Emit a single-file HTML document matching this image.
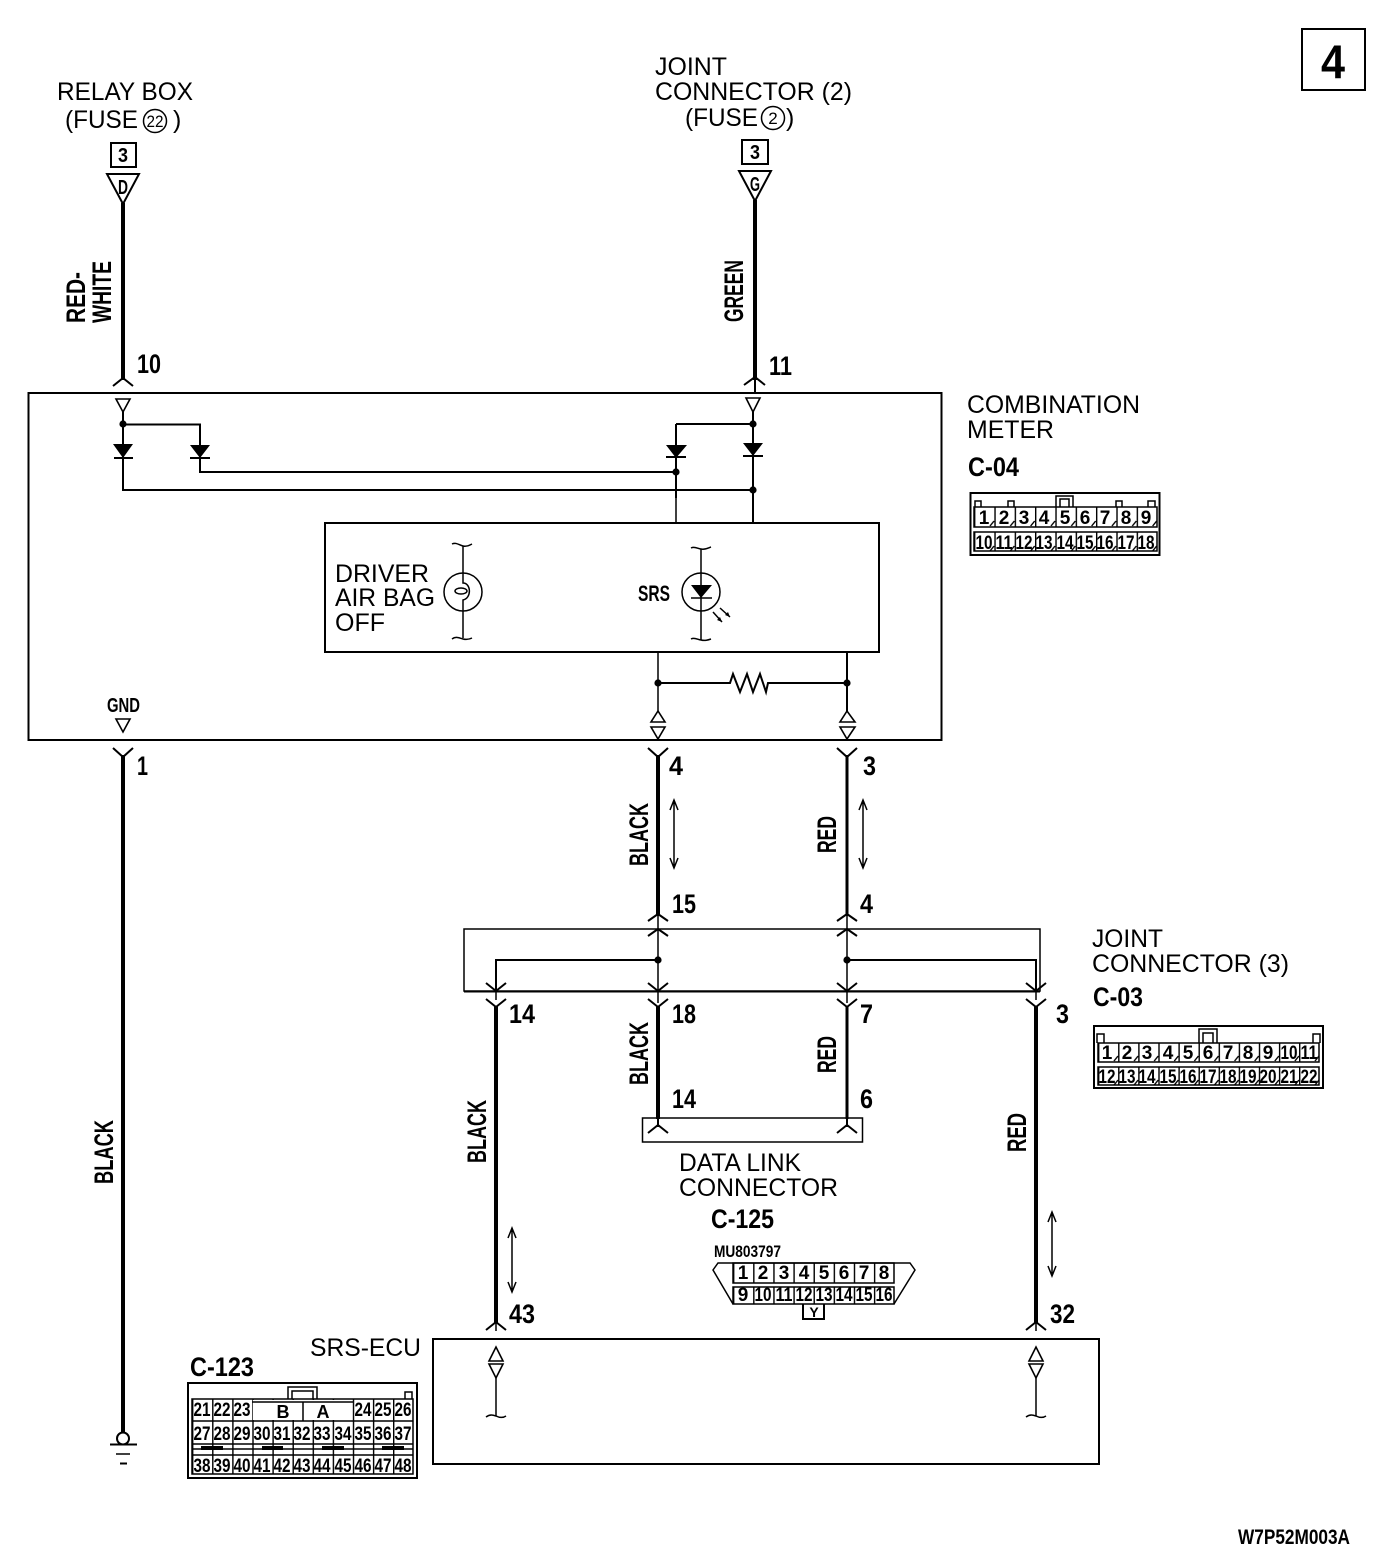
<!DOCTYPE html>
<html><head><meta charset="utf-8"><style>
html,body{margin:0;padding:0;background:#fff}
svg{display:block}
text{font-family:"Liberation Sans",sans-serif;fill:#000}
.t{font-size:25px}
.b{font-size:27px;font-weight:bold}
.n{font-size:19px;font-weight:bold;text-anchor:middle}
.l2{fill:none;stroke:#000;stroke-width:2}
.l1{fill:none;stroke:#000;stroke-width:1.5}
.w{fill:#fff;stroke:#000;stroke-width:1.6}
.k{fill:#000;stroke:none}
</style></head><body>
<svg width="1392" height="1564" viewBox="0 0 1392 1564" xmlns="http://www.w3.org/2000/svg">
<defs>
<pattern id="p4" x="974" y="507" width="20.33" height="25" patternUnits="userSpaceOnUse"><path d="M.7 0V25M20 14L16 19" fill="none" stroke="#000" stroke-width="1.4"/></pattern>
<pattern id="p3" x="1098" y="1043" width="20.1" height="24" patternUnits="userSpaceOnUse"><path d="M.7 0V24M20 13L16 18" fill="none" stroke="#000" stroke-width="1.4"/></pattern>
<pattern id="p125" x="733" y="1263" width="20.13" height="24" patternUnits="userSpaceOnUse"><path d="M.7 0V24" fill="none" stroke="#000" stroke-width="1.4"/></pattern>
<pattern id="p123" x="192" y="1399" width="20.1" height="30" patternUnits="userSpaceOnUse"><path d="M.7 0V30" fill="none" stroke="#000" stroke-width="1.4"/></pattern>
</defs>

<!-- page number -->
<rect x="1302" y="29" width="63" height="61" class="l2"/>
<text x="1333" y="78" class="b" style="font-size:47px" text-anchor="middle" textLength="24" lengthAdjust="spacingAndGlyphs">4</text>

<!-- top labels -->
<text x="57" y="100" class="t" textLength="136" lengthAdjust="spacingAndGlyphs">RELAY BOX</text>
<text x="65" y="128" class="t" textLength="73" lengthAdjust="spacingAndGlyphs">(FUSE</text>
<circle cx="155" cy="121" r="11.5" class="l1"/>
<text x="155" y="127" style="font-size:17px" text-anchor="middle" textLength="17" lengthAdjust="spacingAndGlyphs">22</text>
<text x="173" y="128" class="t">)</text>
<rect x="111" y="143" width="25" height="24" class="l2"/>
<text x="123" y="162" class="n" style="font-size:20px" textLength="10" lengthAdjust="spacingAndGlyphs">3</text>
<path d="M107 174H139L123 204Z" class="l2" stroke-width="2.4"/>
<text x="123" y="194" class="n" style="font-size:20px" textLength="10" lengthAdjust="spacingAndGlyphs">D</text>

<text x="655" y="75" class="t" textLength="72" lengthAdjust="spacingAndGlyphs">JOINT</text>
<text x="655" y="100" class="t" textLength="197" lengthAdjust="spacingAndGlyphs">CONNECTOR (2)</text>
<text x="685" y="126" class="t" textLength="73" lengthAdjust="spacingAndGlyphs">(FUSE</text>
<circle cx="773" cy="118" r="11.5" class="l1"/>
<text x="773" y="124" style="font-size:17px" text-anchor="middle">2</text>
<text x="786" y="126" class="t">)</text>
<rect x="742" y="140" width="26" height="24" class="l2"/>
<text x="755" y="159" class="n" style="font-size:20px" textLength="10" lengthAdjust="spacingAndGlyphs">3</text>
<path d="M739 171H771L755 201Z" class="l2"/>
<text x="755" y="191" class="n" style="font-size:20px" textLength="10" lengthAdjust="spacingAndGlyphs">G</text>

<!-- thick wires -->
<g fill="none" stroke="#000" stroke-width="4">
<path d="M123 203V380"/>
<path d="M755 200V380"/>
<path d="M123 755V1433"/>
<path d="M658 755V916"/>
<path d="M496 1006V1323"/>
<path d="M658 1006V1119"/>
<path d="M1036 1006V1323"/>
</g>
<path d="M847 755V916M847 1006V1119" fill="none" stroke="#000" stroke-width="3"/>

<!-- wire labels -->
<g class="b">
<text transform="translate(85,323) rotate(-90)" class="b" textLength="51" lengthAdjust="spacingAndGlyphs">RED-</text>
<text transform="translate(111,323) rotate(-90)" class="b" textLength="62" lengthAdjust="spacingAndGlyphs">WHITE</text>
<text transform="translate(743,322) rotate(-90)" class="b" textLength="62" lengthAdjust="spacingAndGlyphs">GREEN</text>
<text transform="translate(648,866) rotate(-90)" class="b" textLength="63" lengthAdjust="spacingAndGlyphs">BLACK</text>
<text transform="translate(836,853) rotate(-90)" class="b" textLength="37" lengthAdjust="spacingAndGlyphs">RED</text>
<text transform="translate(648,1085) rotate(-90)" class="b" textLength="63" lengthAdjust="spacingAndGlyphs">BLACK</text>
<text transform="translate(836,1073) rotate(-90)" class="b" textLength="37" lengthAdjust="spacingAndGlyphs">RED</text>
<text transform="translate(486,1163) rotate(-90)" class="b" textLength="63" lengthAdjust="spacingAndGlyphs">BLACK</text>
<text transform="translate(1026,1152) rotate(-90)" class="b" textLength="39" lengthAdjust="spacingAndGlyphs">RED</text>
<text transform="translate(113,1184) rotate(-90)" class="b" textLength="64" lengthAdjust="spacingAndGlyphs">BLACK</text>
</g>

<!-- pin numbers -->
<g>
<text x="137" y="373" class="b" textLength="24" lengthAdjust="spacingAndGlyphs">10</text>
<text x="769" y="375" class="b" textLength="23" lengthAdjust="spacingAndGlyphs">11</text>
<text x="137" y="775" class="b" textLength="11" lengthAdjust="spacingAndGlyphs">1</text>
<text x="669" y="775" class="b" textLength="14" lengthAdjust="spacingAndGlyphs">4</text>
<text x="863" y="775" class="b" textLength="13" lengthAdjust="spacingAndGlyphs">3</text>
<text x="672" y="913" class="b" textLength="24" lengthAdjust="spacingAndGlyphs">15</text>
<text x="860" y="913" class="b" textLength="13" lengthAdjust="spacingAndGlyphs">4</text>
<text x="509" y="1023" class="b" textLength="26" lengthAdjust="spacingAndGlyphs">14</text>
<text x="672" y="1023" class="b" textLength="24" lengthAdjust="spacingAndGlyphs">18</text>
<text x="860" y="1023" class="b" textLength="13" lengthAdjust="spacingAndGlyphs">7</text>
<text x="1056" y="1023" class="b" textLength="13" lengthAdjust="spacingAndGlyphs">3</text>
<text x="672" y="1108" class="b" textLength="24" lengthAdjust="spacingAndGlyphs">14</text>
<text x="860" y="1108" class="b" textLength="13" lengthAdjust="spacingAndGlyphs">6</text>
<text x="509" y="1323" class="b" textLength="26" lengthAdjust="spacingAndGlyphs">43</text>
<text x="1050" y="1323" class="b" textLength="25" lengthAdjust="spacingAndGlyphs">32</text>
</g>

<!-- combination meter -->
<rect x="28.5" y="393" width="913" height="347" class="l2"/>
<g class="l2">
<path d="M113 386L123 378L133 386" class="l2"/>
<path d="M744 385L755 377L765 385M755 380V392" class="l2"/>
</g>
<path d="M116 399H130L123 412Z" class="w"/>
<path d="M746 398H760L753 412Z" class="w"/>
<path d="M123 412V490H753M123 424.5H200V472H676M676 424H753M753 412V522M676 424V498" class="l2"/>
<path d="M676 498V522" class="l1"/>
<path d="M113 444H133L123 458ZM190 445H210L200 458ZM666 445H687L676 458ZM743 443H763L753 456Z" class="k"/>
<path d="M114 458H133M190 458H210M666 457H686M743 456H763" class="l2"/>
<g class="k"><circle cx="123" cy="424" r="3.6"/><circle cx="753" cy="424" r="3.6"/><circle cx="676" cy="472" r="3.6"/><circle cx="753" cy="490" r="3.6"/><circle cx="658" cy="683" r="3.6"/><circle cx="847" cy="683" r="3.6"/><circle cx="658" cy="960" r="3.6"/><circle cx="847" cy="960" r="3.6"/></g>

<rect x="325" y="523" width="554" height="129" class="l2"/>
<text x="335" y="582" class="t" textLength="94" lengthAdjust="spacingAndGlyphs">DRIVER</text>
<text x="335" y="606" class="t" textLength="100" lengthAdjust="spacingAndGlyphs">AIR BAG</text>
<text x="335" y="631" class="t" textLength="50" lengthAdjust="spacingAndGlyphs">OFF</text>
<!-- bulb -->
<circle cx="463" cy="592" r="19" class="l1"/>
<path d="M463 546V573M463 573V583C471 583 472 598 463 600V611M463 611V638" class="l1"/>
<ellipse cx="461" cy="591" rx="6" ry="3" class="l1"/>
<path d="M452 544C456 542 459 545 463 546C467 547 470 545 472 544M452 639C456 636 459 638 463 639C467 640 470 639 472 638" class="l1"/>
<!-- LED -->
<text x="638" y="601" class="b" style="font-size:22px" textLength="32" lengthAdjust="spacingAndGlyphs">SRS</text>
<circle cx="701" cy="592" r="19" class="l1"/>
<path d="M701 549V640" class="l1"/>
<path d="M691 548C695 546 698 549 701 549C705 550 708 548 711 547M691 639C695 637 698 640 701 640C705 641 708 640 711 639" class="l1"/>
<path d="M691 585H712L701 598Z" class="k"/>
<path d="M691 598H712" class="l1"/>
<path d="M713 612L722 622M720 608L730 617" class="l1"/>
<path d="M722 622L717 620L720 617ZM730 617L725 615L728 612Z" class="k"/>

<!-- lower meter wiring -->
<path d="M658 652V712" class="l1"/>
<path d="M847 652V712" class="l2"/>
<path d="M658 683H730L733 674L740 692L747 674L753 692L760 674L766 692L768 683H847" class="l2" stroke-linejoin="miter"/>
<path d="M651 722H665L658 711ZM651 727H665L658 739Z" class="w"/>
<path d="M840 722H855L847 711ZM840 727H855L847 739Z" class="w"/>
<text x="107" y="712" class="b" style="font-size:20px" textLength="33" lengthAdjust="spacingAndGlyphs">GND</text>
<path d="M116 719H130L123 732Z" class="w"/>

<!-- forks below meter -->
<path d="M113 748L123 757L133 748M648 748L658 757L668 748M837 748L847 757L857 748" class="l2"/>

<!-- double arrows -->
<path d="M674 800V868M670 810L674 800L678 810M670 858L674 868L678 858" class="l1"/>
<path d="M863 800V868M859 810L863 800L867 810M859 858L863 868L867 858" class="l1"/>
<path d="M512 1228V1292M508 1238L512 1228L516 1238M508 1282L512 1292L516 1282" class="l1"/>
<path d="M1052 1212V1276M1048 1222L1052 1212L1056 1222M1048 1266L1052 1276L1056 1266" class="l1"/>

<!-- joint connector 3 -->
<path d="M464 929H1040V991H464Z" class="l1"/>
<path d="M464 991.5H1040" class="l2"/>
<path d="M648 921L658 914L668 921M837 921L847 914L857 921M648 936L658 929L668 936M837 936L847 929L857 936" class="l2"/>
<path d="M658 914V1003M847 914V1003" class="l1"/>
<path d="M496 991V960H658M847 960H1036V991" class="l2"/>
<path d="M496 1000V991M1036 1000V991" class="l1"/>
<path d="M486 983L496 991L506 983M648 983L658 991L668 983M837 983L847 991L857 983M1026 983L1036 991L1046 983" class="l2"/>
<path d="M486 999L496 1007L506 999M648 999L658 1007L668 999M837 999L847 1007L857 999M1026 999L1036 1007L1046 999" class="l2"/>
<text x="1092" y="947" class="t" textLength="71" lengthAdjust="spacingAndGlyphs">JOINT</text>
<text x="1092" y="972" class="t" textLength="197" lengthAdjust="spacingAndGlyphs">CONNECTOR (3)</text>
<text x="1093" y="1006" class="b" textLength="50" lengthAdjust="spacingAndGlyphs">C-03</text>

<!-- data link connector -->
<rect x="642.5" y="1118" width="220" height="24" class="l1"/>
<path d="M648 1133L658 1125L668 1133M837 1133L847 1125L857 1133M658 1118V1127M847 1118V1127" class="l2"/>
<text x="679" y="1171" class="t" textLength="122" lengthAdjust="spacingAndGlyphs">DATA LINK</text>
<text x="679" y="1196" class="t" textLength="159" lengthAdjust="spacingAndGlyphs">CONNECTOR</text>
<text x="711" y="1228" class="b" textLength="63" lengthAdjust="spacingAndGlyphs">C-125</text>

<!-- SRS-ECU -->
<rect x="433" y="1339" width="666" height="125" class="l2"/>
<text x="310" y="1356" class="t" textLength="111" lengthAdjust="spacingAndGlyphs">SRS-ECU</text>
<path d="M486 1330L496 1322L506 1330M1026 1330L1036 1322L1046 1330" class="l2"/>
<path d="M496 1322V1331M1036 1322V1331" class="l1"/>
<path d="M489 1361H503L496 1347ZM489 1364H503L496 1378Z" class="w"/>
<path d="M1029 1361H1043L1036 1347ZM1029 1364H1043L1036 1378Z" class="w"/>
<path d="M496 1378V1416M1036 1378V1416" class="l1"/>
<path d="M486 1417C490 1414 493 1415 496 1416C500 1418 503 1418 506 1416M1026 1417C1030 1414 1033 1415 1036 1416C1040 1418 1043 1418 1046 1416" class="l1"/>

<!-- ground -->
<circle cx="123" cy="1438.5" r="6" fill="#fff" stroke="#000" stroke-width="2"/>
<path d="M110 1444.5H137" class="l2"/>
<path d="M116 1454H130" class="l1"/>
<path d="M120 1463.5H127" class="l2"/>

<!-- combination meter label + C-04 -->
<text x="967" y="413" class="t" textLength="173" lengthAdjust="spacingAndGlyphs">COMBINATION</text>
<text x="967" y="438" class="t" textLength="87" lengthAdjust="spacingAndGlyphs">METER</text>
<text x="968" y="476" class="b" textLength="51" lengthAdjust="spacingAndGlyphs">C-04</text>
<rect x="970.5" y="493" width="189" height="62" class="l2"/>
<path d="M975 507V501H981V507M1008 507V501H1014V507M1116 507V501H1122V507M1148 507V501H1155V507M1056 507V496H1073V507M1060 507V499H1069V507" class="l1"/>
<rect x="974" y="507" width="183" height="20" fill="url(#p4)" stroke="#000" stroke-width="1.5"/>
<rect x="974" y="532" width="183" height="19" fill="url(#p4)" stroke="#000" stroke-width="1.5"/>
<g>
<text x="984" y="524" class="n">1</text><text x="1004" y="524" class="n">2</text><text x="1024" y="524" class="n">3</text><text x="1044" y="524" class="n">4</text><text x="1065" y="524" class="n">5</text><text x="1085" y="524" class="n">6</text><text x="1105" y="524" class="n">7</text><text x="1126" y="524" class="n">8</text><text x="1146" y="524" class="n">9</text>
<text x="984" y="549" class="n" textLength="17" lengthAdjust="spacingAndGlyphs">10</text><text x="1004" y="549" class="n" textLength="17" lengthAdjust="spacingAndGlyphs">11</text><text x="1024" y="549" class="n" textLength="17" lengthAdjust="spacingAndGlyphs">12</text><text x="1044" y="549" class="n" textLength="17" lengthAdjust="spacingAndGlyphs">13</text><text x="1065" y="549" class="n" textLength="17" lengthAdjust="spacingAndGlyphs">14</text><text x="1085" y="549" class="n" textLength="17" lengthAdjust="spacingAndGlyphs">15</text><text x="1105" y="549" class="n" textLength="17" lengthAdjust="spacingAndGlyphs">16</text><text x="1126" y="549" class="n" textLength="17" lengthAdjust="spacingAndGlyphs">17</text><text x="1146" y="549" class="n" textLength="17" lengthAdjust="spacingAndGlyphs">18</text>
</g>

<!-- C-03 -->
<rect x="1094" y="1026" width="229" height="62" class="l2"/>
<path d="M1097 1043V1034H1104V1043M1313 1043V1034H1320V1043M1199 1043V1029H1217V1043M1203 1043V1033H1213V1043" class="l1"/>
<rect x="1098" y="1043" width="221" height="19" fill="url(#p3)" stroke="#000" stroke-width="1.5"/>
<rect x="1098" y="1067" width="221" height="18" fill="url(#p3)" stroke="#000" stroke-width="1.5"/>
<g>
<text x="1107" y="1059" class="n">1</text><text x="1127" y="1059" class="n">2</text><text x="1147" y="1059" class="n">3</text><text x="1168" y="1059" class="n">4</text><text x="1188" y="1059" class="n">5</text><text x="1208" y="1059" class="n">6</text><text x="1228" y="1059" class="n">7</text><text x="1248" y="1059" class="n">8</text><text x="1268" y="1059" class="n">9</text><text x="1289" y="1059" class="n" textLength="17" lengthAdjust="spacingAndGlyphs">10</text><text x="1309" y="1059" class="n" textLength="17" lengthAdjust="spacingAndGlyphs">11</text>
<text x="1107" y="1083" class="n" textLength="17" lengthAdjust="spacingAndGlyphs">12</text><text x="1127" y="1083" class="n" textLength="17" lengthAdjust="spacingAndGlyphs">13</text><text x="1147" y="1083" class="n" textLength="17" lengthAdjust="spacingAndGlyphs">14</text><text x="1168" y="1083" class="n" textLength="17" lengthAdjust="spacingAndGlyphs">15</text><text x="1188" y="1083" class="n" textLength="17" lengthAdjust="spacingAndGlyphs">16</text><text x="1208" y="1083" class="n" textLength="17" lengthAdjust="spacingAndGlyphs">17</text><text x="1228" y="1083" class="n" textLength="17" lengthAdjust="spacingAndGlyphs">18</text><text x="1248" y="1083" class="n" textLength="17" lengthAdjust="spacingAndGlyphs">19</text><text x="1268" y="1083" class="n" textLength="17" lengthAdjust="spacingAndGlyphs">20</text><text x="1289" y="1083" class="n" textLength="17" lengthAdjust="spacingAndGlyphs">21</text><text x="1309" y="1083" class="n" textLength="17" lengthAdjust="spacingAndGlyphs">22</text>
</g>

<!-- C-125 connector -->
<text x="714" y="1257" class="b" style="font-size:17px" textLength="67" lengthAdjust="spacingAndGlyphs">MU803797</text>
<path d="M733 1304L713 1270L718 1263H910L915 1270L894 1304" class="l1"/>
<rect x="733" y="1263" width="161" height="20" fill="url(#p125)" stroke="#000" stroke-width="1.5"/>
<rect x="733" y="1287" width="161" height="17" fill="url(#p125)" stroke="#000" stroke-width="1.5"/>
<path d="M803 1304V1319H824V1304" class="l2"/>
<text x="814" y="1317" class="n" style="font-size:14px">Y</text>
<g>
<text x="743" y="1279" class="n">1</text><text x="763" y="1279" class="n">2</text><text x="784" y="1279" class="n">3</text><text x="804" y="1279" class="n">4</text><text x="824" y="1279" class="n">5</text><text x="844" y="1279" class="n">6</text><text x="864" y="1279" class="n">7</text><text x="884" y="1279" class="n">8</text>
<text x="743" y="1301" class="n">9</text><text x="763" y="1301" class="n" textLength="17" lengthAdjust="spacingAndGlyphs">10</text><text x="784" y="1301" class="n" textLength="17" lengthAdjust="spacingAndGlyphs">11</text><text x="804" y="1301" class="n" textLength="17" lengthAdjust="spacingAndGlyphs">12</text><text x="824" y="1301" class="n" textLength="17" lengthAdjust="spacingAndGlyphs">13</text><text x="844" y="1301" class="n" textLength="17" lengthAdjust="spacingAndGlyphs">14</text><text x="864" y="1301" class="n" textLength="17" lengthAdjust="spacingAndGlyphs">15</text><text x="884" y="1301" class="n" textLength="17" lengthAdjust="spacingAndGlyphs">16</text>
</g>

<!-- C-123 connector -->
<text x="190" y="1376" class="b" textLength="64" lengthAdjust="spacingAndGlyphs">C-123</text>
<rect x="188" y="1383" width="229" height="95" class="l2"/>
<path d="M288 1399V1387H317V1399M292 1399V1391H313V1399M405 1399V1392H412V1399" class="l1"/>
<rect x="192" y="1399" width="221" height="75" fill="url(#p123)" stroke="#000" stroke-width="1.5"/>
<rect x="253" y="1400" width="99" height="20" fill="#fff"/>
<path d="M252 1421H192M353 1421H413M192 1444H413M192 1449H413M192 1455H413M252 1402H353M303 1402V1421" class="l1"/>
<path d="M252 1421H353" stroke="#000" stroke-width="1.5"/>
<path d="M201 1448H223M262 1448H283M322 1448H344M382 1448H404" stroke="#000" stroke-width="4"/>
<text x="283" y="1418" class="n" style="font-size:18px">B</text>
<text x="323" y="1418" class="n" style="font-size:18px">A</text>
<g>
<text x="202" y="1416" class="n" textLength="17" lengthAdjust="spacingAndGlyphs">21</text><text x="222" y="1416" class="n" textLength="17" lengthAdjust="spacingAndGlyphs">22</text><text x="242" y="1416" class="n" textLength="17" lengthAdjust="spacingAndGlyphs">23</text><text x="363" y="1416" class="n" textLength="17" lengthAdjust="spacingAndGlyphs">24</text><text x="383" y="1416" class="n" textLength="17" lengthAdjust="spacingAndGlyphs">25</text><text x="403" y="1416" class="n" textLength="17" lengthAdjust="spacingAndGlyphs">26</text>
<text x="202" y="1440" class="n" textLength="17" lengthAdjust="spacingAndGlyphs">27</text><text x="222" y="1440" class="n" textLength="17" lengthAdjust="spacingAndGlyphs">28</text><text x="242" y="1440" class="n" textLength="17" lengthAdjust="spacingAndGlyphs">29</text><text x="262" y="1440" class="n" textLength="17" lengthAdjust="spacingAndGlyphs">30</text><text x="282" y="1440" class="n" textLength="17" lengthAdjust="spacingAndGlyphs">31</text><text x="302" y="1440" class="n" textLength="17" lengthAdjust="spacingAndGlyphs">32</text><text x="322" y="1440" class="n" textLength="17" lengthAdjust="spacingAndGlyphs">33</text><text x="343" y="1440" class="n" textLength="17" lengthAdjust="spacingAndGlyphs">34</text><text x="363" y="1440" class="n" textLength="17" lengthAdjust="spacingAndGlyphs">35</text><text x="383" y="1440" class="n" textLength="17" lengthAdjust="spacingAndGlyphs">36</text><text x="403" y="1440" class="n" textLength="17" lengthAdjust="spacingAndGlyphs">37</text>
<text x="202" y="1472" class="n" textLength="17" lengthAdjust="spacingAndGlyphs">38</text><text x="222" y="1472" class="n" textLength="17" lengthAdjust="spacingAndGlyphs">39</text><text x="242" y="1472" class="n" textLength="17" lengthAdjust="spacingAndGlyphs">40</text><text x="262" y="1472" class="n" textLength="17" lengthAdjust="spacingAndGlyphs">41</text><text x="282" y="1472" class="n" textLength="17" lengthAdjust="spacingAndGlyphs">42</text><text x="302" y="1472" class="n" textLength="17" lengthAdjust="spacingAndGlyphs">43</text><text x="322" y="1472" class="n" textLength="17" lengthAdjust="spacingAndGlyphs">44</text><text x="343" y="1472" class="n" textLength="17" lengthAdjust="spacingAndGlyphs">45</text><text x="363" y="1472" class="n" textLength="17" lengthAdjust="spacingAndGlyphs">46</text><text x="383" y="1472" class="n" textLength="17" lengthAdjust="spacingAndGlyphs">47</text><text x="403" y="1472" class="n" textLength="17" lengthAdjust="spacingAndGlyphs">48</text>
</g>

<text x="1238" y="1544" class="b" style="font-size:21px" textLength="112" lengthAdjust="spacingAndGlyphs">W7P52M003A</text>
</svg>
</body></html>
